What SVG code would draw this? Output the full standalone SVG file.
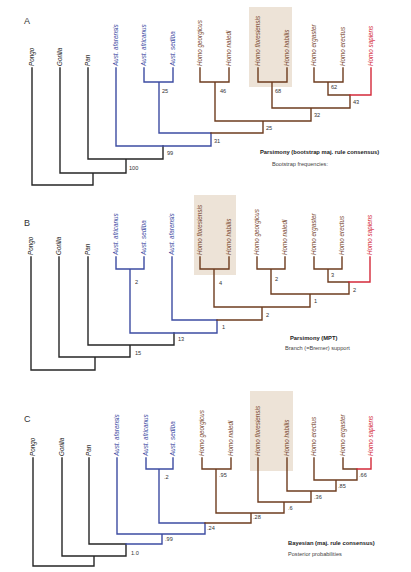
<svg xmlns="http://www.w3.org/2000/svg" width="411" height="572" viewBox="0 0 411 572">
<style>
text{font-family:"Liberation Sans",Arial,sans-serif}
.lf{font-size:6.3px;font-style:italic}
.k{fill:#1a1a1a}
.b{fill:#3d4ca2}
.h{fill:#7b4b32}
.r{fill:#d42a3a}
.n{font-size:5.6px;fill:#333}
.t{font-size:5.8px;font-weight:bold;fill:#222}
.s{font-size:5.6px;fill:#444}
.p{font-size:9px;fill:#333}
.box{fill:#ede3d7}
.lk,.lb,.lh,.lr{fill:none;stroke-width:1.4;stroke-linecap:square}
.lk{stroke:#262626}
.lb{stroke:#3d4ca2}
.lh{stroke:#6e3c1f}
.lr{stroke:#d42a3a}
</style>
<rect width="411" height="572" fill="#fff"/>
<rect class="box" x="249" y="7" width="43" height="80"/>
<rect class="box" x="194" y="195" width="42" height="80"/>
<rect class="box" x="250" y="391" width="43" height="80"/>
<g id="connectors">
<g id="edges-A">
<path class="lk" d="M32,68V185H93V173M60,68V173H126V159M88,68V159H163V146"/>
<path class="lb" d="M116,68V146H211V133H159V82M144,68V82H173V68"/>
<path class="lh" d="M211,133H263V121M200,68V82H229V68M215,82V121H311V108M258,68V82H287V68M272,82V108H350V95M314,68V82H343V68M328,82V95H350"/>
<path class="lr" d="M371,68V95H350"/>
</g>
<g id="edges-B">
<path class="lk" d="M31,257V370H95V357M59,257V357H130V345M88,257V345H174V333"/>
<path class="lb" d="M116,257V269H144V257M130,269V333H217V320H172V257"/>
<path class="lh" d="M217,320H262V307M200,257V269H229V257M214,269V307H310V294M257,257V269H285V257M271,269V294H349V282M314,257V269H342V257M328,269V282H349"/>
<path class="lr" d="M370,257V282H349"/>
</g>
<g id="edges-C">
<path class="lk" d="M33,458V566H94V556M62,458V556H126V544M89,458V544H126"/>
<path class="lb" d="M126,544H162V534M117,458V534H205V523H159V469M146,458V469H173V458"/>
<path class="lh" d="M205,523H251V513M202,458V469H231V458M216,469V513H284V502M258,458V502H311V491M287,458V491H336V480M314,458V480H357V469M343,458V469H357"/>
<path class="lr" d="M371,458V469H357"/>
</g>
</g>
<g id="panel-A">
<text class="p" x="24" y="24">A</text>
<g id="A-pongo"><text class="lf k" transform="translate(34.2,66) rotate(-90)">Pongo</text></g>
<g id="A-gorilla"><text class="lf k" transform="translate(62.2,66) rotate(-90)">Gorilla</text></g>
<g id="A-pan"><text class="lf k" transform="translate(90.2,66) rotate(-90)">Pan</text></g>
<g id="A-afarensis"><text class="lf b" transform="translate(118.2,66) rotate(-90)">Aust. afarensis</text></g>
<g id="A-africanus"><text class="lf b" transform="translate(146.2,66) rotate(-90)">Aust. africanus</text></g>
<g id="A-sediba"><text class="lf b" transform="translate(175.2,66) rotate(-90)">Aust. sediba</text></g>
<g id="A-georgicus"><text class="lf h" transform="translate(202.2,66) rotate(-90)">Homo georgicus</text></g>
<g id="A-naledi"><text class="lf h" transform="translate(231.2,66) rotate(-90)">Homo naledi</text></g>
<g id="A-floresiensis"><text class="lf h" transform="translate(260.2,66) rotate(-90)">Homo floresiensis</text></g>
<g id="A-habilis"><text class="lf h" transform="translate(289.2,66) rotate(-90)">Homo habilis</text></g>
<g id="A-ergaster"><text class="lf h" transform="translate(316.2,66) rotate(-90)">Homo ergaster</text></g>
<g id="A-erectus"><text class="lf h" transform="translate(345.2,66) rotate(-90)">Homo erectus</text></g>
<g id="A-sapiens"><text class="lf r" transform="translate(373.2,66) rotate(-90)">Homo sapiens</text></g>
<g id="A-n1"><text class="n" x="162" y="93">25</text></g>
<g id="A-n2"><text class="n" x="220" y="93">46</text></g>
<g id="A-n3"><text class="n" x="275" y="93">68</text></g>
<g id="A-n4"><text class="n" x="331" y="89">62</text></g>
<g id="A-n5"><text class="n" x="353" y="104">43</text></g>
<g id="A-n6"><text class="n" x="314" y="117">32</text></g>
<g id="A-n7"><text class="n" x="266" y="130">25</text></g>
<g id="A-n8"><text class="n" x="214" y="143">31</text></g>
<g id="A-n9"><text class="n" x="167" y="155">99</text></g>
<g id="A-n10"><text class="n" x="129" y="170">100</text></g>
<text class="t" x="260" y="154">Parsimony (bootstrap maj. rule consensus)</text>
<text class="s" x="272" y="166">Bootstrap frequencies:</text>
</g>
<g id="panel-B">
<text class="p" x="24" y="226">B</text>
<g id="B-pongo"><text class="lf k" transform="translate(33.2,255) rotate(-90)">Pongo</text></g>
<g id="B-gorilla"><text class="lf k" transform="translate(61.2,255) rotate(-90)">Gorilla</text></g>
<g id="B-pan"><text class="lf k" transform="translate(90.2,255) rotate(-90)">Pan</text></g>
<g id="B-africanus"><text class="lf b" transform="translate(118.2,255) rotate(-90)">Aust. africanus</text></g>
<g id="B-sediba"><text class="lf b" transform="translate(146.2,255) rotate(-90)">Aust. sediba</text></g>
<g id="B-afarensis"><text class="lf b" transform="translate(174.2,255) rotate(-90)">Aust. afarensis</text></g>
<g id="B-floresiensis"><text class="lf h" transform="translate(202.2,255) rotate(-90)">Homo floresiensis</text></g>
<g id="B-habilis"><text class="lf h" transform="translate(231.2,255) rotate(-90)">Homo habilis</text></g>
<g id="B-georgicus"><text class="lf h" transform="translate(259.2,255) rotate(-90)">Homo georgicus</text></g>
<g id="B-naledi"><text class="lf h" transform="translate(287.2,255) rotate(-90)">Homo naledi</text></g>
<g id="B-ergaster"><text class="lf h" transform="translate(316.2,255) rotate(-90)">Homo ergaster</text></g>
<g id="B-erectus"><text class="lf h" transform="translate(344.2,255) rotate(-90)">Homo erectus</text></g>
<g id="B-sapiens"><text class="lf r" transform="translate(372.2,255) rotate(-90)">Homo sapiens</text></g>
<g id="B-n1"><text class="n" x="135" y="284">2</text></g>
<g id="B-n2"><text class="n" x="219" y="285">4</text></g>
<g id="B-n3"><text class="n" x="275" y="281">2</text></g>
<g id="B-n4"><text class="n" x="331" y="277">3</text></g>
<g id="B-n5"><text class="n" x="353" y="292">2</text></g>
<g id="B-n6"><text class="n" x="314" y="303">1</text></g>
<g id="B-n7"><text class="n" x="266" y="317">2</text></g>
<g id="B-n8"><text class="n" x="222" y="329">1</text></g>
<g id="B-n9"><text class="n" x="178" y="341">13</text></g>
<g id="B-n10"><text class="n" x="135" y="355">15</text></g>
<text class="t" x="290" y="340">Parsimony (MPT)</text>
<text class="s" x="285" y="350">Branch (=Bremer) support</text>
</g>
<g id="panel-C">
<text class="p" x="24" y="422">C</text>
<g id="C-pongo"><text class="lf k" transform="translate(35.2,456) rotate(-90)">Pongo</text></g>
<g id="C-gorilla"><text class="lf k" transform="translate(64.2,456) rotate(-90)">Gorilla</text></g>
<g id="C-pan"><text class="lf k" transform="translate(91.2,456) rotate(-90)">Pan</text></g>
<g id="C-afarensis"><text class="lf b" transform="translate(119.2,456) rotate(-90)">Aust. afarensis</text></g>
<g id="C-africanus"><text class="lf b" transform="translate(148.2,456) rotate(-90)">Aust. africanus</text></g>
<g id="C-sediba"><text class="lf b" transform="translate(175.2,456) rotate(-90)">Aust. sediba</text></g>
<g id="C-georgicus"><text class="lf h" transform="translate(204.2,456) rotate(-90)">Homo georgicus</text></g>
<g id="C-naledi"><text class="lf h" transform="translate(233.2,456) rotate(-90)">Homo naledi</text></g>
<g id="C-floresiensis"><text class="lf h" transform="translate(260.2,456) rotate(-90)">Homo floresiensis</text></g>
<g id="C-habilis"><text class="lf h" transform="translate(289.2,456) rotate(-90)">Homo habilis</text></g>
<g id="C-erectus"><text class="lf h" transform="translate(316.2,456) rotate(-90)">Homo erectus</text></g>
<g id="C-ergaster"><text class="lf h" transform="translate(345.2,456) rotate(-90)">Homo ergaster</text></g>
<g id="C-sapiens"><text class="lf r" transform="translate(373.2,456) rotate(-90)">Homo sapiens</text></g>
<g id="C-n1"><text class="n" x="164" y="479">.2</text></g>
<g id="C-n2"><text class="n" x="219" y="477">.95</text></g>
<g id="C-n3"><text class="n" x="359" y="477">.66</text></g>
<g id="C-n4"><text class="n" x="338" y="488">.85</text></g>
<g id="C-n5"><text class="n" x="314" y="499">.36</text></g>
<g id="C-n6"><text class="n" x="288" y="510">.6</text></g>
<g id="C-n7"><text class="n" x="253" y="519">.28</text></g>
<g id="C-n8"><text class="n" x="207" y="530">.24</text></g>
<g id="C-n9"><text class="n" x="165" y="541">.99</text></g>
<g id="C-n10"><text class="n" x="131" y="555">1.0</text></g>
<text class="t" x="288" y="545">Bayesian (maj. rule consensus)</text>
<text class="s" x="288" y="556">Posterior probabilities</text>
</g>
</svg>
